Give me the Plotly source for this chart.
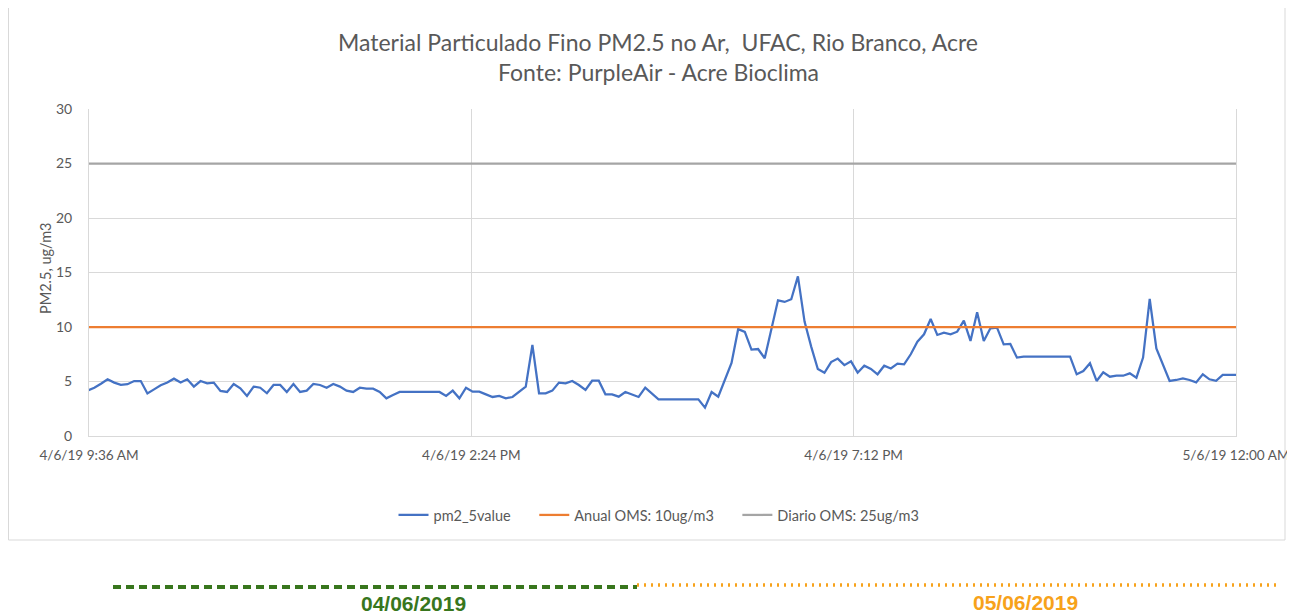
import pandas as pd
import plotly.graph_objects as go

# ---- data ----
start_time = "2019-06-04 09:35"
step = "5min"
pm25_values = [
    4.16, 4.43, 4.8, 5.2, 4.9, 4.7, 4.75, 5.04, 5.04, 3.9,
    4.28, 4.65, 4.9, 5.26, 4.9, 5.2, 4.53, 5.04, 4.83, 4.9,
    4.13, 4.04, 4.77, 4.37, 3.67, 4.53, 4.43, 3.92, 4.68, 4.68,
    4.04, 4.77, 4.04, 4.16, 4.77, 4.68, 4.43, 4.77, 4.53, 4.16,
    4.04, 4.43, 4.34, 4.34, 4.04, 3.46, 3.76, 4.04, 4.04, 4.04,
    4.04, 4.04, 4.04, 4.04, 3.67, 4.16, 3.46, 4.43, 4.07, 4.07,
    3.82, 3.58, 3.67, 3.46, 3.58, 4.07, 4.53, 8.35, 3.92, 3.92,
    4.16, 4.9, 4.83, 5.04, 4.68, 4.22, 5.07, 5.07, 3.82, 3.82,
    3.61, 4.04, 3.82, 3.58, 4.43, 3.92, 3.37, 3.37, 3.37, 3.37,
    3.37, 3.37, 3.37, 2.6, 4.04, 3.61, 5.2, 6.7, 9.8, 9.55,
    7.93, 7.98, 7.13, 9.85, 12.45, 12.3, 12.55, 14.65, 10.5, 8.2,
    6.15, 5.8, 6.78, 7.1, 6.5, 6.85, 5.81, 6.45, 6.15, 5.66,
    6.45, 6.2, 6.64, 6.57, 7.5, 8.65, 9.33, 10.73, 9.27, 9.48,
    9.33, 9.57, 10.58, 8.72, 11.35, 8.72, 9.88, 9.94, 8.41, 8.44,
    7.19, 7.28, 7.28, 7.28, 7.28, 7.28, 7.28, 7.28, 7.28, 5.66,
    5.96, 6.67, 5.05, 5.84, 5.44, 5.53, 5.53, 5.75, 5.35, 7.19,
    12.57, 8.04, 6.5, 5.05, 5.14, 5.29, 5.14, 4.92, 5.66, 5.2,
    5.07, 5.6, 5.6, 5.6,
]
anual_oms = 10
diario_oms = 25
series_names = ["pm2_5value", "Anual OMS: 10ug/m3", "Diario OMS: 25ug/m3"]
x_tick_vals = ["2019-06-04 09:36", "2019-06-04 14:24", "2019-06-04 19:12", "2019-06-05 00:00"]
x_tick_text = ["4/6/19 9:36 AM", "4/6/19 2:24 PM", "4/6/19 7:12 PM", "5/6/19 12:00 AM"]
y_ticks = [0, 5, 10, 15, 20, 25, 30]
title_lines = ["Material Particulado Fino PM2.5 no Ar,  UFAC, Rio Branco, Acre",
               "Fonte: PurpleAir - Acre Bioclima"]
y_title = "PM2.5, ug/m3"
date_labels = ["04/06/2019", "05/06/2019"]

times = pd.date_range(start_time, periods=len(pm25_values), freq=step)

# page has an 8px body margin; the figure is laid out in page pixels
OFF = 8
W, H = 1295 - OFF, 614 - OFF
L, R, T, B = 89, 1236, 109, 436          # plot area in page pixels
pw, ph = R - L, B - T

def px(x):
    return (x - L) / pw

def py(y):
    return (B - y) / ph

FONT = "Lato, Calibri, Carlito, sans-serif"
GRAY = "#595959"
PAD = "\u00a0" * 5   # extra gap between legend entries

fig = go.Figure()
fig.add_trace(go.Scatter(x=times, y=pm25_values, mode="lines", name=series_names[0] + PAD,
                         line=dict(color="#4472C4", width=2.25)))
fig.add_trace(go.Scatter(x=times, y=[anual_oms] * len(times), mode="lines", name=series_names[1] + PAD,
                         line=dict(color="#ED7D31", width=2.25)))
fig.add_trace(go.Scatter(x=times, y=[diario_oms] * len(times), mode="lines", name=series_names[2],
                         line=dict(color="#A5A5A5", width=2.25)))

fig.update_layout(
    width=W, height=H,
    margin=dict(l=L - OFF, r=W - (R - OFF), t=T - OFF, b=H - (B - OFF), autoexpand=False),
    paper_bgcolor="white", plot_bgcolor="white",
    font=dict(family=FONT, color=GRAY, size=14),
    showlegend=True,
    legend=dict(orientation="h", x=px(659), xanchor="center", y=py(515), yanchor="middle",
                font=dict(family=FONT, size=14.5, color=GRAY), itemwidth=30,
                bgcolor="rgba(0,0,0,0)"),
    xaxis=dict(range=[x_tick_vals[0], x_tick_vals[-1]], tickvals=x_tick_vals, ticktext=x_tick_text,
               showgrid=True, gridcolor="#D9D9D9", gridwidth=1,
               showline=True, linecolor="#D9D9D9", linewidth=1, mirror=False,
               ticks="", ticklabelstandoff=7,
               tickfont=dict(family=FONT, size=13.6, color=GRAY), zeroline=False),
    yaxis=dict(range=[0, 30], tickvals=y_ticks, showgrid=True, gridcolor="#D9D9D9", gridwidth=1,
               showline=True, linecolor="#D9D9D9", linewidth=1, mirror=True, ticks="",
               ticklabelstandoff=13,
               tickfont=dict(family=FONT, size=14, color=GRAY), zeroline=False),
)

# y axis title
fig.add_annotation(text=y_title, x=px(45), y=py(268), xref="paper", yref="paper", textangle=-90,
                   showarrow=False, xanchor="center", yanchor="middle",
                   font=dict(family=FONT, size=14.5, color=GRAY))

# title lines
fig.add_annotation(text=title_lines[0], x=px(658), y=py(42), xref="paper", yref="paper",
                   showarrow=False, xanchor="center", yanchor="middle",
                   font=dict(family=FONT, size=23, color=GRAY))
fig.add_annotation(text=title_lines[1], x=px(658), y=py(72), xref="paper", yref="paper",
                   showarrow=False, xanchor="center", yanchor="middle",
                   font=dict(family=FONT, size=23, color=GRAY))

# chart border
fig.add_shape(type="rect", xref="paper", yref="paper", x0=px(8.5), x1=px(1285), y0=py(540), y1=py(0),
              line=dict(color="#D9D9D9", width=1), fillcolor="rgba(0,0,0,0)", layer="below")

# day markers below chart
fig.add_shape(type="line", xref="paper", yref="paper", x0=px(113), x1=px(637), y0=py(587), y1=py(587),
              line=dict(color="#38761D", width=4, dash="8px,5px"))
fig.add_shape(type="line", xref="paper", yref="paper", x0=px(637), x1=px(1280), y0=py(585), y1=py(585),
              line=dict(color="#F7A21B", width=3.5, dash="2px,5px"))
fig.add_annotation(text="<b>" + date_labels[0] + "</b>", x=px(413), y=py(603), xref="paper", yref="paper",
                   showarrow=False, xanchor="center", yanchor="middle",
                   font=dict(family="Liberation Sans Narrow, Arial Narrow, sans-serif", size=21, color="#38761D"))
fig.add_annotation(text="<b>" + date_labels[1] + "</b>", x=px(1025), y=py(602), xref="paper", yref="paper",
                   showarrow=False, xanchor="center", yanchor="middle",
                   font=dict(family="Liberation Sans Narrow, Arial Narrow, sans-serif", size=21, color="#F7A21B"))

fig.write_html("out.html")
